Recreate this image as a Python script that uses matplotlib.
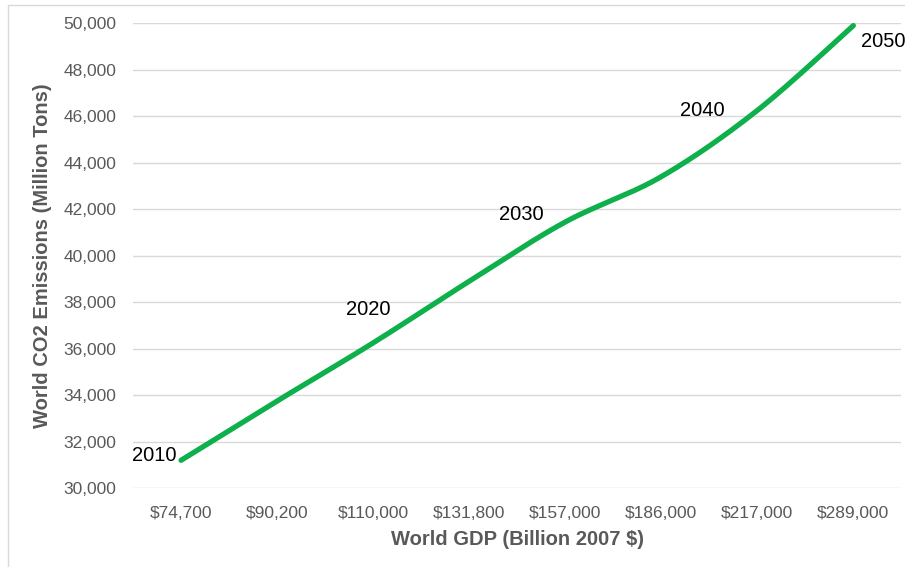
import numpy as np
import matplotlib.pyplot as plt
from matplotlib.patches import Rectangle

gdp_labels = ["$74,700", "$90,200", "$110,000", "$131,800", "$157,000", "$186,000", "$217,000", "$289,000"]
co2 = [31200, 33750, 36250, 38900, 41450, 43400, 46250, 49900]
years = ["2010", "", "2020", "", "2030", "", "2040", "2050"]
label_offsets = {"2010": (-27, 5), "2020": (-5, 33), "2030": (-44, 8), "2040": (-55, 0), "2050": (30, -16)}

plt.rcParams['font.family'] = ['Liberation Sans', 'DejaVu Sans']


def smooth(xs, ys, n=30):
    # catmull-rom through the points, like a spreadsheet "smoothed line"
    pts = np.column_stack([xs, ys]).astype(float)
    p = np.vstack([pts[0], pts, pts[-1]])
    out = []
    t = np.linspace(0, 1, n)[:, None]
    for i in range(1, len(p) - 2):
        p0, p1, p2, p3 = p[i - 1], p[i], p[i + 1], p[i + 2]
        seg = 0.5 * (2 * p1 + (-p0 + p2) * t + (2 * p0 - 5 * p1 + 4 * p2 - p3) * t ** 2
                     + (-p0 + 3 * p1 - 3 * p2 + p3) * t ** 3)
        out.append(seg)
    out = np.vstack(out)
    return out[:, 0], out[:, 1]


fig = plt.figure(figsize=(9.05, 5.67), dpi=100)
ax = fig.add_axes([0.147, 0.139, 0.849, 0.82])

x = np.arange(len(co2))
sx, sy = smooth(x, co2)
ax.plot(sx, sy, color='#0db04b', lw=3.8, solid_capstyle='round')

for i, yr in enumerate(years):
    if yr:
        dx, dy = label_offsets[yr]
        ax.annotate(yr, (x[i], co2[i]), xytext=(dx, dy), textcoords='offset pixels',
                    ha='center', va='center', fontsize=14.5, color='black')

ax.set_xlim(-0.5, 7.5)
ax.set_ylim(30000, 50000)
ax.set_yticks(range(30000, 50001, 2000))
ax.set_yticklabels([f"{v:,}" for v in range(30000, 50001, 2000)])
ax.set_xticks(x)
ax.set_xticklabels(gdp_labels)
ax.grid(axis='y', color='#d9d9d9', lw=1)
ax.set_axisbelow(True)
for s in ax.spines.values():
    s.set_visible(False)
ax.tick_params(axis='y', length=0, labelsize=12.5, colors='#595959', pad=12)
ax.tick_params(axis='x', length=0, labelsize=12.5, colors='#595959', pad=13)

ax.set_xlabel("World GDP (Billion 2007 $)", fontsize=14.5, fontweight='bold', color='#595959', labelpad=6)
ax.set_ylabel("World CO2 Emissions (Million Tons)", fontsize=14.5, fontweight='bold', color='#595959', labelpad=8)

fig.patches.append(Rectangle((0.009, -0.1), 1.1, 1.091, transform=fig.transFigure,
                             fill=False, edgecolor='#d9d9d9', lw=1))

fig.savefig("out.png", dpi=100)
